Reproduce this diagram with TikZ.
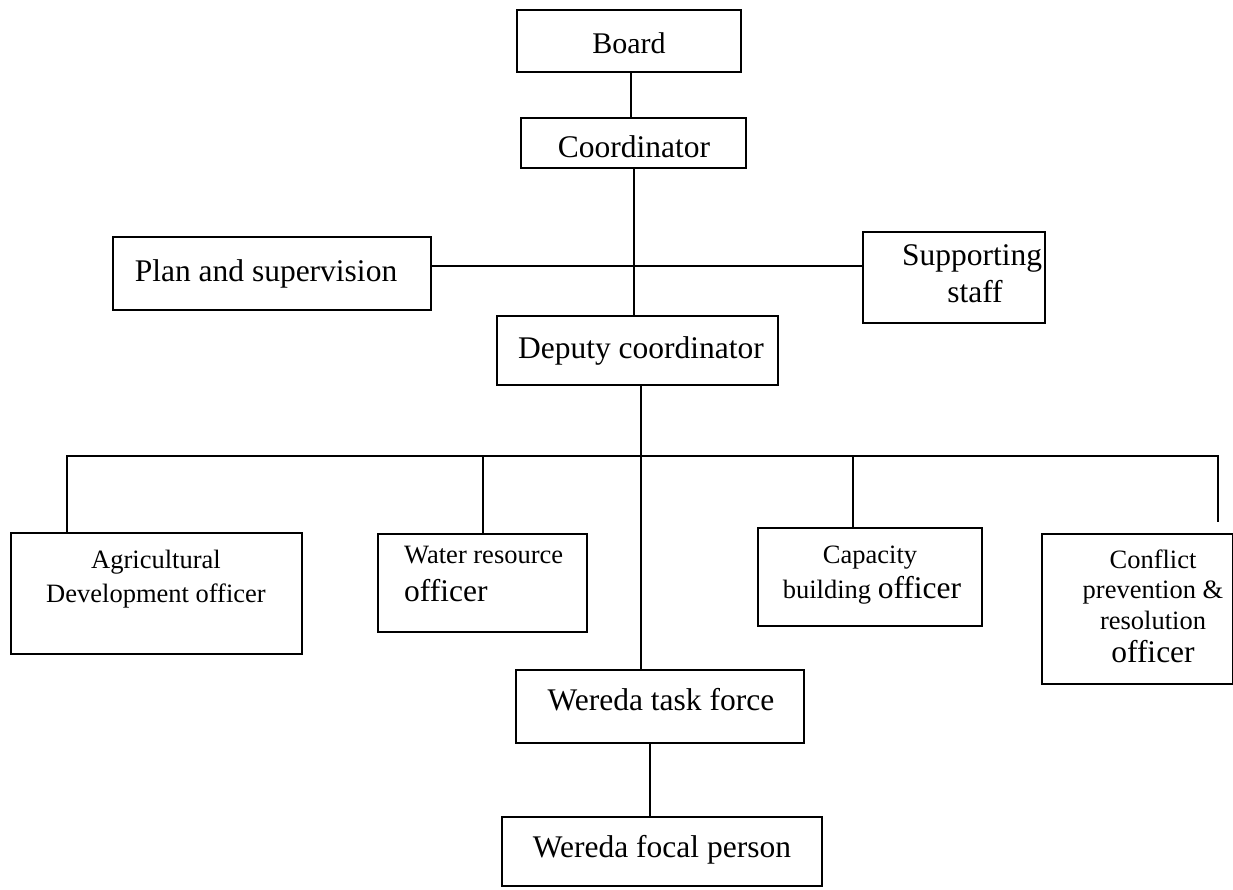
\documentclass[tikz,border=0pt]{standalone}
\usepackage{fontspec}
\setmainfont{Liberation Serif}
\newcommand{\fsmall}{\fontsize{26.5}{30}\selectfont}
\newcommand{\fbig}{\fontsize{31.5}{36}\selectfont}
\tikzset{
  box/.style={draw, rectangle, inner sep=0pt, outer sep=0pt, line width=1.6pt},
  conn/.style={line width=1.6pt},
  bigtxt/.style={font=\fbig, inner sep=0pt, anchor=base},
  smalltxt/.style={font=\fsmall, inner sep=0pt, anchor=base},
}
\begin{document}
\begin{tikzpicture}[x=1pt,y=-1pt]
\useasboundingbox (0,0) rectangle (1233,889);
% boxes
\node[box, minimum width=224, minimum height=62] (board) at (629,41) {};
\node[box, minimum width=225, minimum height=50] (coord) at (633.5,143) {};
\node[box, minimum width=318, minimum height=73] (plan) at (272,273.5) {};
\node[box, minimum width=182, minimum height=91] (supp) at (954,277.5) {};
\node[box, minimum width=281, minimum height=69] (deputy) at (637.5,350.5) {};
\node[box, minimum width=291, minimum height=121] (agri) at (156.5,593.5) {};
\node[box, minimum width=209, minimum height=98] (water) at (482.5,583) {};
\node[box, minimum width=224, minimum height=98] (cap) at (870,577) {};
\node[box, minimum width=191, minimum height=150] (conf) at (1137.5,609) {};
\node[box, minimum width=288, minimum height=73] (task) at (660,706.5) {};
\node[box, minimum width=320, minimum height=69] (focal) at (662,851.5) {};
% texts
\node[bigtxt, font=\fontsize{30}{34}\selectfont] (tboard) at (629,53) {Board};
\node[bigtxt] (tcoord) at (634,157) {Coordinator};
\node[bigtxt] (tplan) at (266,281) {Plan and supervision};
\node[bigtxt] (tsupp1) at (972,265) {Supporting};
\node[bigtxt] (tsupp2) at (975,302) {staff};
\node[bigtxt] (tdep) at (641,358) {Deputy coordinator};
\node[smalltxt] (tagri1) at (156,568) {Agricultural};
\node[smalltxt] (tagri2) at (156,602) {Development officer};
\node[smalltxt, anchor=base west] (twat1) at (404,563) {Water resource};
\node[bigtxt, anchor=base west] (twat2) at (404,601) {officer};
\node[smalltxt] (tcap1) at (870,563) {Capacity};
\node[smalltxt] (tcap2) at (872,598) {building {\fbig officer}};
\node[smalltxt] (tconf1) at (1153,568) {Conflict};
\node[smalltxt] (tconf2) at (1153,598) {prevention \&};
\node[smalltxt] (tconf3) at (1153,629) {resolution};
\node[bigtxt] (tconf4) at (1153,662) {officer};
\node[bigtxt] (ttask) at (661,710) {Wereda task force};
\node[bigtxt] (tfocal) at (662,857) {Wereda focal person};
% helper coordinates
\coordinate (hline) at (0,266);
\coordinate (boardX) at (631,0);
\coordinate (coordX) at (634,0);
\coordinate (trunk) at (641,0);
\coordinate (busL) at (67,456);
\coordinate (busR) at (1218,456);
\coordinate (confEnd) at (1218,522);
\coordinate (waterX) at (483,0);
\coordinate (capX) at (853,0);
\coordinate (taskX) at (650,0);
% connectors
\draw[conn] (board.south -| boardX) -- (coord.north -| boardX);
\draw[conn] (coord.south -| coordX) -- (deputy.north -| coordX);
\draw[conn] (plan.east |- hline) -- (supp.west |- hline);
\draw[conn] (deputy.south -| trunk) -- (task.north -| trunk);
\draw[conn] (agri.north -| busL) -- (busL) -- (busR) -- (confEnd);
\draw[conn] (water.north -| waterX) -- (busL -| waterX);
\draw[conn] (cap.north -| capX) -- (busL -| capX);
\draw[conn] (task.south -| taskX) -- (focal.north -| taskX);
\end{tikzpicture}
\end{document}
